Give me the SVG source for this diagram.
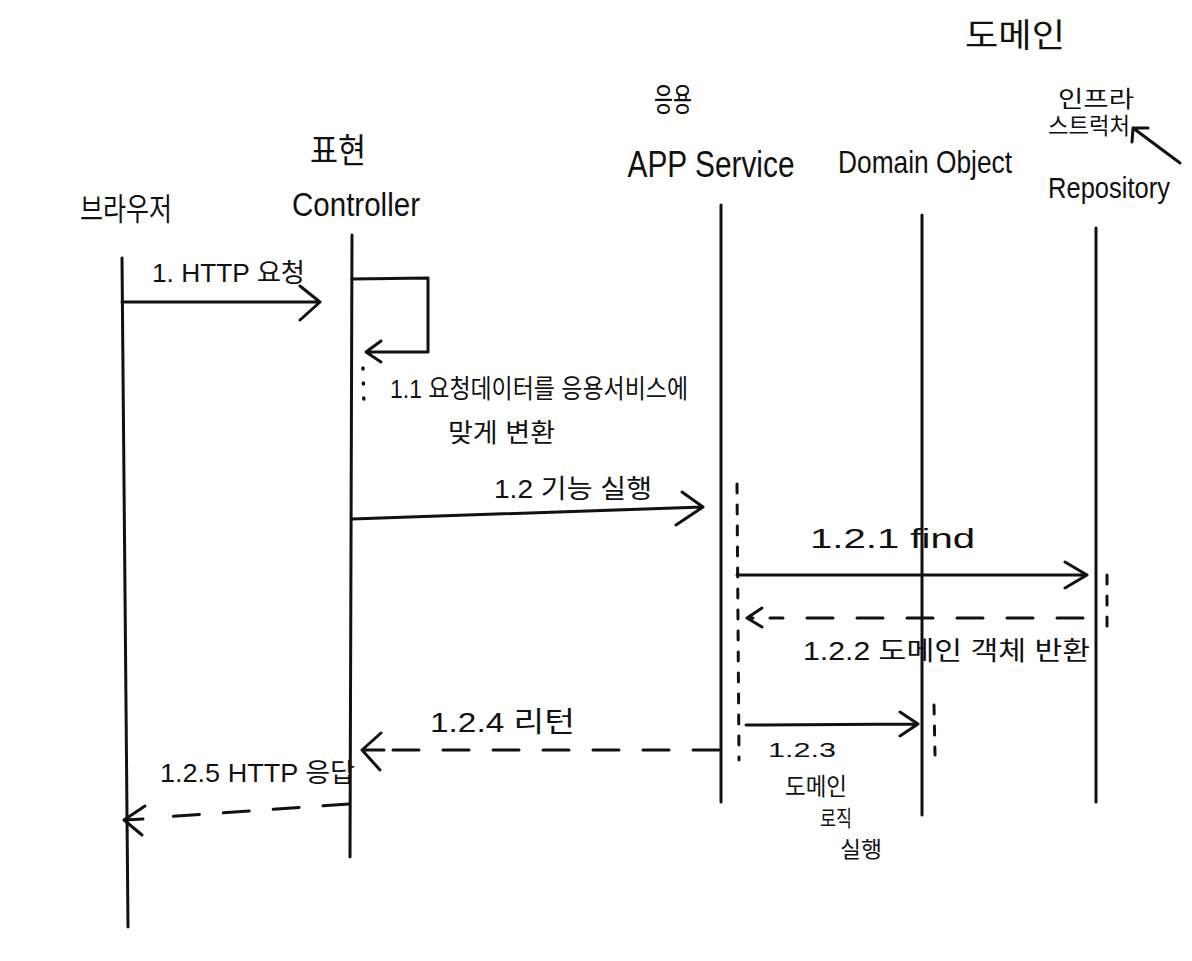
<svg xmlns="http://www.w3.org/2000/svg" width="1192" height="961" viewBox="0 0 1192 961">
<style>
text{font-family:"Liberation Sans","Noto Sans CJK KR",sans-serif;fill:#111}
.ln{stroke:#111;stroke-width:3;fill:none;stroke-linecap:round;stroke-linejoin:round}
.dash{stroke-dasharray:26 24}
.act{stroke:#111;stroke-width:3;fill:none;stroke-linecap:round;stroke-dasharray:9 12}
.dots{stroke:#111;stroke-width:3.5;fill:none;stroke-linecap:round;stroke-dasharray:1 14}
</style>
<rect width="1192" height="961" fill="#fff"/>
<g id="layer-labels">
<text x="1015" y="47" font-size="33" text-anchor="middle" textLength="100" lengthAdjust="spacingAndGlyphs">도메인</text>
<text x="1096" y="107" font-size="23" text-anchor="middle" textLength="76" lengthAdjust="spacingAndGlyphs">인프라</text>
<text x="1089" y="134" font-size="23" text-anchor="middle" textLength="82" lengthAdjust="spacingAndGlyphs">스트럭처</text>
<text x="673" y="111" font-size="32" text-anchor="middle" textLength="38" lengthAdjust="spacingAndGlyphs">응용</text>
<text x="338" y="163" font-size="34" text-anchor="middle" textLength="56" lengthAdjust="spacingAndGlyphs">표현</text>
</g>
<g id="node-browser">
<text x="126" y="220" font-size="31" text-anchor="middle" textLength="92" lengthAdjust="spacingAndGlyphs">브라우저</text>
<path class="ln" d="M122,258 L128,927"/>
</g>
<g id="node-controller">
<text x="356" y="216" font-size="34" text-anchor="middle" textLength="128" lengthAdjust="spacingAndGlyphs">Controller</text>
<path class="ln" d="M352,235 L350,857"/>
</g>
<g id="node-appservice">
<text x="711" y="177" font-size="36" text-anchor="middle" textLength="167" lengthAdjust="spacingAndGlyphs">APP Service</text>
<path class="ln" d="M721,205 L721,802"/>
</g>
<g id="node-domainobject">
<text x="925" y="173" font-size="32" text-anchor="middle" textLength="174" lengthAdjust="spacingAndGlyphs">Domain Object</text>
<path class="ln" d="M922,215 L922,815"/>
</g>
<g id="node-repository">
<text x="1109" y="198" font-size="30" text-anchor="middle" textLength="122" lengthAdjust="spacingAndGlyphs">Repository</text>
<path class="ln" d="M1096,228 L1096,802"/>
</g>
<g id="connectors">
<path class="ln" d="M1180,163 L1133,128 M1133,128 L1132,142 M1133,128 L1148,128"/>
<!-- 1 -->
<path class="ln" d="M122,302 L320,302 M300,286 L320,302 L300,320"/>
<text x="152" y="282" font-size="26" textLength="153" lengthAdjust="spacingAndGlyphs">1. HTTP 요청</text>
<!-- 1.1 self -->
<path class="ln" d="M352,279 L428,278 L428,352 L366,352 M381,341 L366,352 L381,362"/>
<path class="dots" d="M363,368 L364,406"/>
<text x="390" y="398" font-size="26" textLength="298" lengthAdjust="spacingAndGlyphs">1.1 요청데이터를 응용서비스에</text>
<text x="448" y="442" font-size="26" textLength="107" lengthAdjust="spacingAndGlyphs">맞게 변환</text>
<!-- 1.2 -->
<path class="ln" d="M352,519 L703,507 M682,492 L703,507 L676,525"/>
<text x="494" y="498" font-size="26" textLength="158" lengthAdjust="spacingAndGlyphs">1.2 기능 실행</text>
<path class="act" d="M737,484 L739,760"/>
<!-- 1.2.1 -->
<path class="ln" d="M737,575 L1087,575 M1065,562 L1087,575 L1065,588"/>
<text x="810" y="548" font-size="28" textLength="165" lengthAdjust="spacingAndGlyphs">1.2.1 find</text>
<path class="act" d="M1107,575 L1107,628"/>
<!-- 1.2.2 -->
<path class="ln dash" d="M1083,618 L770,618"/>
<path class="ln" d="M762,608 L747,618 L762,627 M747,618 L753,618"/>
<text x="803" y="660" font-size="26" textLength="287" lengthAdjust="spacingAndGlyphs">1.2.2 도메인 객체 반환</text>
<!-- 1.2.3 -->
<path class="ln" d="M746,725 L918,724 M900,712 L918,724 L900,736"/>
<path class="act" d="M934,705 L935,755"/>
<text x="768" y="757" font-size="21" textLength="68" lengthAdjust="spacingAndGlyphs">1.2.3</text>
<text x="785" y="795" font-size="24" textLength="62" lengthAdjust="spacingAndGlyphs">도메인</text>
<text x="820" y="826" font-size="22" textLength="32" lengthAdjust="spacingAndGlyphs">로직</text>
<text x="840" y="857" font-size="22" textLength="42" lengthAdjust="spacingAndGlyphs">실행</text>
<!-- 1.2.4 -->
<path class="ln dash" d="M719,750 L390,750"/>
<path class="ln" d="M381,733 L362,750 L380,770 M362,750 L384,750"/>
<text x="430" y="732" font-size="28" textLength="145" lengthAdjust="spacingAndGlyphs">1.2.4 리턴</text>
<!-- 1.2.5 -->
<path class="ln dash" d="M349,804 L150,818"/>
<path class="ln" d="M145,806 L124,820 L142,835 M124,820 L143,819"/>
<text x="160" y="782" font-size="26" textLength="195" lengthAdjust="spacingAndGlyphs">1.2.5 HTTP 응답</text>
</g>
</svg>
